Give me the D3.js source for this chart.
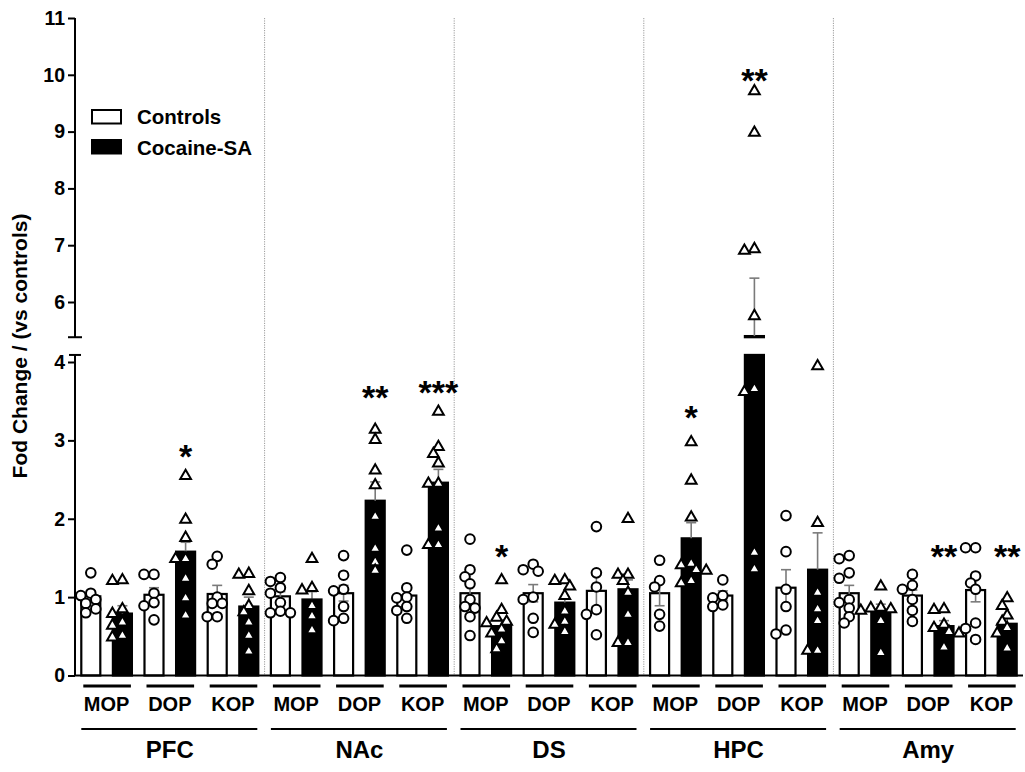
<!DOCTYPE html>
<html>
<head>
<meta charset="utf-8">
<script src="https://cdn.jsdelivr.net/npm/d3@7"></script>
<style>
  html, body { margin: 0; padding: 0; background: #fff; }
  svg text { font-family: "Liberation Sans", Arial, sans-serif; }
</style>
</head>
<body>
<svg id="chart" width="1025" height="772"></svg>
<script>
// ---------------- DATA ----------------
const regions = ["PFC", "NAc", "DS", "HPC", "Amy"];
const receptors = ["MOP", "DOP", "KOP"];
const groups = ["Controls", "Cocaine-SA"];
const lowerTicks = [0, 1, 2, 3, 4];
const upperTicks = [6, 7, 8, 9, 10, 11];
const yTitle = "Fod Change / (vs controls)";

// one entry per region x receptor (PFC MOP, PFC DOP, PFC KOP, NAc MOP, ...)
const controlMeans = [1.01, 1.03, 1.04,  1.01, 1.05, 1.02,  1.05, 1.05, 1.08,  1.05, 1.02, 1.12,  1.05, 1.02, 1.09];
const controlSems  = [0.07, 0.09, 0.11,  0.06, 0.10, 0.12,  0.12, 0.11, 0.20,  0.16, 0.06, 0.23,  0.10, 0.07, 0.15];
const cocaineMeans = [0.79, 1.58, 0.88,  0.97, 2.23, 2.46,  0.63, 0.93, 1.10,  1.75, 5.40, 1.35,  0.84, 0.63, 0.66];
const cocaineSems  = [0.10, 0.12, 0.12,  0.10, 0.24, 0.17,  0.08, 0.07, 0.12,  0.20, 1.02, 0.47,  0.07, 0.07, 0.09];

const controlPoints = [
  [1.31, 1.05, 1.02, 0.97, 0.92, 0.85, 0.80],
  [1.29, 1.29, 1.05, 0.93, 0.89, 0.71],
  [1.52, 1.42, 1.00, 0.92, 0.92, 0.75, 0.75],
  [1.25, 1.20, 1.12, 1.05, 0.93, 0.82, 0.80, 0.80],
  [1.53, 1.28, 1.10, 1.08, 0.88, 0.73, 0.70],
  [1.60, 1.12, 1.00, 0.99, 0.88, 0.83, 0.73],
  [1.74, 1.35, 1.26, 1.17, 0.97, 0.88, 0.86, 0.75, 0.51],
  [1.42, 1.35, 1.33, 1.00, 0.97, 0.73, 0.55],
  [1.90, 1.31, 1.13, 0.84, 0.78, 0.52],
  [1.47, 1.21, 1.13, 0.78, 0.63],
  [1.22, 1.02, 0.99, 0.90, 0.88],
  [2.04, 1.58, 1.10, 0.88, 0.58, 0.53],
  [1.53, 1.49, 1.31, 1.24, 0.97, 0.93, 0.86, 0.75, 0.67],
  [1.29, 1.15, 1.10, 0.97, 0.83, 0.69],
  [1.63, 1.63, 1.27, 1.18, 1.10, 0.67, 0.60, 0.46]
];
const cocainePoints = [
  [1.23, 1.22, 0.86, 0.80, 0.69, 0.65, 0.52, 0.50],
  [2.56, 2.00, 1.77, 1.50, 1.50, 1.25, 1.00, 0.78],
  [1.31, 1.30, 1.09, 0.90, 0.82, 0.69, 0.52, 0.32],
  [1.50, 1.13, 1.10, 0.90, 0.77, 0.59],
  [3.15, 3.02, 2.63, 2.44, 2.04, 1.63, 1.46, 1.35],
  [3.38, 2.93, 2.84, 2.72, 2.46, 2.46, 1.89, 1.68, 1.68],
  [1.23, 0.85, 0.75, 0.70, 0.68, 0.60, 0.55, 0.45, 0.35],
  [1.23, 1.22, 1.15, 1.03, 0.83, 0.70, 0.66, 0.57],
  [2.01, 1.30, 1.30, 1.22, 1.07, 0.79, 0.43, 0.43],
  [2.99, 2.50, 2.03, 1.44, 1.42, 1.36, 1.35, 1.22, 1.19],
  [9.73, 9.00, 6.95, 6.92, 5.77, 3.67, 3.63, 1.58, 1.37],
  [3.96, 1.96, 1.07, 0.86, 0.71, 0.33, 0.33],
  [1.15, 0.88, 0.87, 0.86, 0.84, 0.71, 0.30],
  [0.86, 0.85, 0.66, 0.62, 0.57, 0.55, 0.37],
  [1.00, 0.90, 0.78, 0.70, 0.62, 0.55, 0.36]
];
// significance marks above cocaine bars (label, value level where it sits)
const sigLabels = ["", "*", "",  "", "**", "***",  "*", "", "",  "*", "**", "",  "", "**", "**"];
const sigLevels = [0, 2.88, 0,  0, 3.63, 3.70,  1.60, 0, 0,  3.37, 10.02, 0,  0, 1.60, 1.60];

// ---------------- LAYOUT ----------------
const svg = d3.select("#chart");
const axisX = 75;
const loMax = 4.09, hiMin = 5.38;
const yLo = d3.scaleLinear().domain([0, 4]).range([675.5, 362]);
const yHi = d3.scaleLinear().domain([6, 11]).range([302, 18]);
const yOf = v => (v > (loMax + hiMin) / 2 ? yHi(v) : yLo(v));

const pairs = [];
regions.forEach(r => receptors.forEach(rc => pairs.push({ region: r, receptor: rc })));
const barKeys = [];
pairs.forEach((p, i) => groups.forEach(g => barKeys.push(i + "|" + g)));

const x = d3.scaleBand().domain(barKeys).range([axisX, 1023]).paddingInner(0.335).paddingOuter(0.1675);
const bw = x.bandwidth();

// dotted region separators
const step = x.step();
for (let k = 1; k < regions.length; k++) {
  const sx = axisX + k * 6 * step;
  svg.append("line").attr("x1", sx).attr("x2", sx).attr("y1", yHi(11)).attr("y2", yLo(0))
    .attr("stroke", "#9a9a9a").attr("stroke-width", 1).attr("stroke-dasharray", "1.2,1.2");
}

// ---------------- BARS ----------------
const barData = [];
pairs.forEach((p, i) => {
  barData.push({ key: i + "|Controls", mean: controlMeans[i], sem: controlSems[i], pts: controlPoints[i], ctrl: true, idx: i });
  barData.push({ key: i + "|Cocaine-SA", mean: cocaineMeans[i], sem: cocaineSems[i], pts: cocainePoints[i], ctrl: false, idx: i });
});

const gBars = svg.append("g");
barData.forEach(d => {
  const top = Math.min(d.mean, loMax);
  gBars.append("rect")
    .attr("x", x(d.key) + 1).attr("width", bw - 2)
    .attr("y", yLo(top)).attr("height", yLo(0) - yLo(top))
    .attr("fill", d.ctrl ? "#fff" : "#000").attr("stroke", "#000").attr("stroke-width", 2.2);
  if (d.mean > hiMin) {
    gBars.append("rect")
      .attr("x", x(d.key) + 1).attr("width", bw - 2)
      .attr("y", yHi(d.mean)).attr("height", yHi(hiMin) - yHi(d.mean))
      .attr("fill", "#000").attr("stroke", "#000").attr("stroke-width", 2.2);
  }
});

// ---------------- ERROR BARS ----------------
const gErr = svg.append("g").attr("stroke", "#7a7a7a").attr("stroke-width", 1.6);
barData.forEach(d => {
  const cx = x(d.key) + bw / 2;
  const hi = d.mean + d.sem;
  const lo = d.ctrl ? d.mean - d.sem : d.mean;
  const yA = yOf(hi), yB = yOf(lo);
  gErr.append("line").attr("x1", cx).attr("x2", cx).attr("y1", yA).attr("y2", yB);
  gErr.append("line").attr("x1", cx - 5).attr("x2", cx + 5).attr("y1", yA).attr("y2", yA);
  if (d.ctrl) gErr.append("line").attr("x1", cx - 5).attr("x2", cx + 5).attr("y1", yB).attr("y2", yB);
});

// ---------------- POINTS (compact beeswarm) ----------------
function swarm(vals, cx) {
  const placed = [];
  vals.map(v => ({ v, y: yOf(v) })).sort((a, b) => a.y - b.y).forEach(p => {
    p.x = cx;
    for (let k = 0; k < 9; k++) {
      const off = (k % 2 === 1 ? -1 : 1) * Math.ceil(k / 2) * 5;
      const px = cx + off;
      if (placed.every(q => Math.hypot(q.x - px, q.y - p.y) >= 8)) { p.x = px; break; }
    }
    placed.push(p);
  });
  return placed;
}
const gPts = svg.append("g");
const tri = d3.symbol().type(d3.symbolTriangle).size(50);
barData.forEach(d => {
  const cx = x(d.key) + bw / 2;
  const pts = swarm(d.pts, cx);
  pts.forEach(p => {
    if (d.ctrl) {
      gPts.append("circle").attr("cx", p.x).attr("cy", p.y).attr("r", 4.8)
        .attr("fill", "#fff").attr("stroke", "#000").attr("stroke-width", 2);
    } else {
      gPts.append("path").attr("d", tri).attr("transform", `translate(${p.x},${p.y + 1})`)
        .attr("fill", "#fff").attr("stroke", "#000").attr("stroke-width", 2).attr("stroke-linejoin", "miter");
    }
  });
});

// ---------------- SIGNIFICANCE ----------------
sigLabels.forEach((s, i) => {
  if (!s) return;
  const key = i + "|Cocaine-SA";
  svg.append("text").attr("x", x(key) + bw / 2).attr("y", yOf(sigLevels[i]) + 18)
    .attr("text-anchor", "middle").attr("font-size", 34).attr("font-weight", "bold").text(s);
});

// ---------------- AXES ----------------
const fmt = d3.format("d");
const gLo = svg.append("g").attr("transform", `translate(${axisX},0)`)
  .call(d3.axisLeft(yLo).tickValues(lowerTicks).tickFormat(fmt).tickSize(7).tickSizeOuter(0).tickPadding(3));
const gHi = svg.append("g").attr("transform", `translate(${axisX},0)`)
  .call(d3.axisLeft(yHi).tickValues(upperTicks).tickFormat(fmt).tickSize(7).tickSizeOuter(0).tickPadding(3));
[gLo, gHi].forEach(g => {
  g.select(".domain").remove();
  g.selectAll(".tick line").attr("stroke", "#000").attr("stroke-width", 2);
  g.selectAll(".tick text").attr("font-size", 19.5).attr("font-weight", "bold").attr("fill", "#000")
    .attr("font-family", "Liberation Sans, Arial, sans-serif");
});
// axis segments with break caps
svg.append("line").attr("x1", axisX).attr("x2", axisX).attr("y1", yLo(0)).attr("y2", yLo(loMax))
  .attr("stroke", "#000").attr("stroke-width", 2);
svg.append("line").attr("x1", axisX - 6).attr("x2", axisX + 6).attr("y1", yLo(loMax)).attr("y2", yLo(loMax))
  .attr("stroke", "#000").attr("stroke-width", 2);
svg.append("line").attr("x1", axisX).attr("x2", axisX).attr("y1", yHi(hiMin)).attr("y2", yHi(11))
  .attr("stroke", "#000").attr("stroke-width", 2);
svg.append("line").attr("x1", axisX - 7).attr("x2", axisX + 7).attr("y1", yHi(hiMin)).attr("y2", yHi(hiMin))
  .attr("stroke", "#000").attr("stroke-width", 2);
// x axis baseline
svg.append("line").attr("x1", axisX).attr("x2", 1023).attr("y1", yLo(0)).attr("y2", yLo(0))
  .attr("stroke", "#000").attr("stroke-width", 2.2);

// y title
svg.append("text").attr("transform", `translate(27,346) rotate(-90)`)
  .attr("text-anchor", "middle").attr("font-size", 21).attr("font-weight", "bold").text(yTitle);

// pair labels and underlines
pairs.forEach((p, i) => {
  const x0 = x(i + "|Controls"), x1 = x(i + "|Cocaine-SA") + bw;
  svg.append("line").attr("x1", x0 + 3).attr("x2", x1 - 2).attr("y1", 686).attr("y2", 686)
    .attr("stroke", "#000").attr("stroke-width", 3);
  svg.append("text").attr("x", (x0 + x1) / 2).attr("y", 711).attr("text-anchor", "middle")
    .attr("font-size", 20).attr("font-weight", "bold").text(p.receptor);
});
regions.forEach((r, k) => {
  const x0 = x((k * 3) + "|Controls"), x1 = x((k * 3 + 2) + "|Cocaine-SA") + bw;
  svg.append("line").attr("x1", x0 + 1).attr("x2", x1 - 2).attr("y1", 729).attr("y2", 729)
    .attr("stroke", "#000").attr("stroke-width", 2);
  svg.append("text").attr("x", (x0 + x1) / 2).attr("y", 758).attr("text-anchor", "middle")
    .attr("font-size", 24).attr("font-weight", "bold").text(r);
});

// legend
const legend = svg.append("g");
groups.forEach((g, i) => {
  legend.append("rect").attr("x", 92).attr("y", 110 + i * 30).attr("width", 29).attr("height", 13.5)
    .attr("fill", i === 0 ? "#fff" : "#000").attr("stroke", "#000").attr("stroke-width", 2);
  legend.append("text").attr("x", 137).attr("y", 124 + i * 31).attr("font-size", 20.5)
    .attr("font-weight", "bold").text(g);
});
</script>
</body>
</html>
